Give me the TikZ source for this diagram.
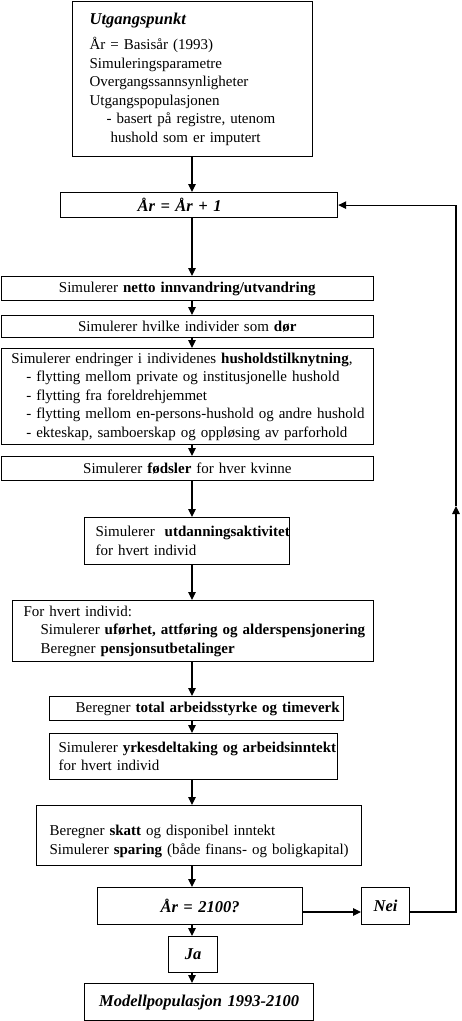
\documentclass[tikz,border=0pt]{standalone}
\usepackage{fontspec}
\setmainfont{Liberation Serif}
\usetikzlibrary{arrows.meta}
\tikzset{
  box/.style={draw, line width=1.2pt, anchor=north west, inner xsep=0pt, inner ysep=1pt,
    font=\fontsize{15}{18.5}\selectfont},
  lbox/.style={box, align=left},
  cbox/.style={box, align=center},
  bi/.style={font=\fontsize{16.5}{18}\selectfont\bfseries\itshape},
  lpad/.style={execute at begin node={\leftskip=#1\relax}},
  arr/.style={line width=1.2pt, -{Triangle[length=8pt,width=7.5pt]}},
  con/.style={line width=1.2pt}
}
\begin{document}
\begin{tikzpicture}[x=1pt,y=-1pt]
\useasboundingbox (0,0) rectangle (461,1021);
\coordinate (axis) at (192,0);
\coordinate (ny) at (0,912);
\coordinate (rx) at (456,0);
\coordinate (up) at (456,506);

\node[lbox, lpad=17pt, text width=240pt, minimum height=155.5pt] (start) at (72,0.7)
 {{\fontsize{16.5}{18}\selectfont\bfseries\itshape Utgangspunkt}\\[7pt]
  År = Basisår (1993)\\
  Simuleringsparametre\\
  Overgangssannsynligheter\\
  Utgangspopulasjonen\\
  \hspace*{17pt}- basert på registre, utenom\\
  \hspace*{21pt}hushold som er imputert};

\node[lbox, bi, lpad=77pt, text width=277pt, minimum height=25pt] (yr) at (60,192) {År = År + 1};

\node[cbox, text width=372pt, minimum height=24pt] (netto) at (0.7,276)
 {Simulerer \textbf{netto innvandring/utvandring}};
\node[cbox, text width=372pt, minimum height=22pt] (dor) at (0.7,315)
 {Simulerer hvilke individer som \textbf{dør}};
\node[lbox, lpad=10pt, text width=372pt, minimum height=96pt] (hush) at (0.7,348)
 {Simulerer endringer i individenes \textbf{husholdstilknytning},\\
  \hspace*{15pt}- flytting mellom private og institusjonelle hushold\\
  \hspace*{15pt}- flytting fra foreldrehjemmet\\
  \hspace*{15pt}- flytting mellom en-persons-hushold og andre hushold\\
  \hspace*{15pt}- ekteskap, samboerskap og oppløsing av parforhold};
\node[cbox, text width=372pt, minimum height=24pt] (fod) at (0.7,456)
 {Simulerer \textbf{fødsler} for hver kvinne};

\node[lbox, lpad=11pt, text width=205pt, minimum height=47pt] (utd) at (84,517)
 {\mbox{Simulerer\ \ \textbf{utdanningsaktivitet}}\\
  for hvert individ};

\node[lbox, lpad=11pt, text width=361pt, minimum height=61pt] (forh) at (12,600)
 {For hvert individ:\\
  \hspace*{17pt}Simulerer \textbf{uførhet, attføring og alderspensjonering}\\
  \hspace*{17pt}Beregner \textbf{pensjonsutbetalinger}};

\node[lbox, lpad=26pt, text width=294pt, minimum height=24pt] (tot) at (49,696)
 {Beregner \textbf{total arbeidsstyrke og timeverk}};

\node[lbox, lpad=9pt, text width=288pt, minimum height=46pt] (yrk) at (49,733)
 {Simulerer \textbf{yrkesdeltaking og arbeidsinntekt}\\
  for hvert individ};

\node[lbox, lpad=13pt, text width=325pt, minimum height=60pt] (spar) at (36,805)
 {\rule{0pt}{22pt}Beregner \textbf{skatt} og disponibel inntekt\\
  Simulerer \textbf{sparing} (både finans- og boligkapital)};

\node[cbox, bi, text width=205pt, minimum height=37pt] (q) at (97,887) {År = 2100?};
\node[cbox, bi, text width=48pt, minimum height=37pt] (nei) at (361,887) {Nei};
\node[cbox, bi, text width=49pt, minimum height=36pt] (ja) at (168,936) {Ja\hspace*{8pt}};
\node[cbox, bi, text width=229pt, minimum height=37pt] (mod) at (84,983) {Modellpopulasjon 1993-2100};

\draw[arr] (start.south -| axis) -- (yr.north -| axis);
\draw[arr] (yr.south -| axis) -- (netto.north -| axis);
\draw[arr] (netto.south -| axis) -- (dor.north -| axis);
\draw[arr] (dor.south -| axis) -- (hush.north -| axis);
\draw[arr] (hush.south -| axis) -- (fod.north -| axis);
\draw[arr] (fod.south -| axis) -- (utd.north -| axis);
\draw[arr] (utd.south -| axis) -- (forh.north -| axis);
\draw[arr] (forh.south -| axis) -- (tot.north -| axis);
\draw[arr] (tot.south -| axis) -- (yrk.north -| axis);
\draw[arr] (yrk.south -| axis) -- (spar.north -| axis);
\draw[arr] (spar.south -| axis) -- (q.north -| axis);
\draw[arr] (q.south -| axis) -- (ja.north -| axis);
\draw[arr] (ja.south -| axis) -- (mod.north -| axis);

\draw[arr] (q.east |- ny) -- (nei.west |- ny);
\draw[arr] (nei.east |- ny) -- (rx |- ny) -- (up);
\draw[arr] (up) -- (rx |- yr.east) -- (yr.east);
\end{tikzpicture}
\end{document}
